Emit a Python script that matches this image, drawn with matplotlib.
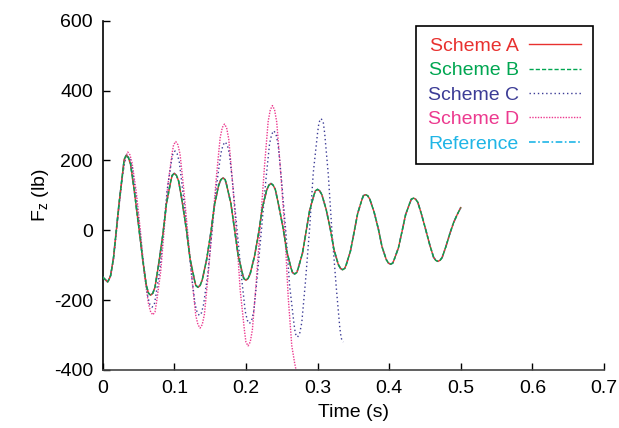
import matplotlib
matplotlib.use('Agg')
import matplotlib.pyplot as plt

# values (time in s, force in lb)
ref_t = [0.000, 0.007, 0.011, 0.015, 0.019, 0.023, 0.027, 0.030,
         0.033, 0.036, 0.039, 0.044, 0.050, 0.056, 0.061, 0.064,
         0.067, 0.070, 0.073, 0.078, 0.084, 0.089, 0.095, 0.097,
         0.100, 0.103, 0.106, 0.111, 0.117, 0.122, 0.128, 0.130,
         0.133, 0.136, 0.139, 0.145, 0.151, 0.156, 0.162, 0.165,
         0.168, 0.171, 0.173, 0.179, 0.184, 0.189, 0.195, 0.197,
         0.200, 0.203, 0.206, 0.212, 0.218, 0.223, 0.229, 0.232,
         0.235, 0.238, 0.241, 0.246, 0.252, 0.257, 0.263, 0.265,
         0.268, 0.271, 0.273, 0.279, 0.284, 0.289, 0.295, 0.297,
         0.300, 0.303, 0.306, 0.312, 0.318, 0.323, 0.329, 0.332,
         0.335, 0.338, 0.340, 0.346, 0.351, 0.356, 0.362, 0.364,
         0.367, 0.370, 0.373, 0.379, 0.385, 0.390, 0.396, 0.399,
         0.402, 0.405, 0.407, 0.413, 0.418, 0.423, 0.429, 0.431,
         0.434, 0.437, 0.440, 0.445, 0.451, 0.457, 0.462, 0.465,
         0.468, 0.471, 0.474, 0.479, 0.485, 0.490, 0.495, 0.500]
ref_f = [-134, -148, -130, -80, 0, 80, 150, 203,
         215, 208, 188, 115, 15, -86, -159, -180,
         -186, -180, -163, -99, -12, 76, 140, 157,
         163, 157, 141, 82, 0, -82, -141, -158,
         -163, -158, -142, -85, -7, 72, 129, 145,
         150, 145, 130, 77, 4, -70, -123, -138,
         -143, -138, -124, -74, -5, 65, 115, 129,
         134, 129, 117, 69, 5, -60, -108, -121,
         -125, -121, -109, -65, -4, 57, 101, 113,
         117, 113, 102, 60, 2, -56, -98, -109,
         -113, -109, -99, -59, -6, 48, 88, 99,
         102, 99, 89, 52, 3, -47, -84, -94,
         -97, -94, -84, -50, -3, 45, 79, 89,
         92, 89, 80, 47, 2, -44, -77, -86,
         -89, -86, -78, -48, -8, 22, 45, 65]

# schemes A and B sit on top of the reference at this scale
a_f = ref_f
b_f = ref_f

c_t = [0.000, 0.007, 0.011, 0.015, 0.019, 0.023, 0.027, 0.031,
       0.035, 0.038, 0.041, 0.046, 0.052, 0.058, 0.063, 0.066,
       0.069, 0.072, 0.074, 0.080, 0.085, 0.090, 0.096, 0.098,
       0.101, 0.104, 0.107, 0.112, 0.118, 0.124, 0.129, 0.132,
       0.135, 0.138, 0.141, 0.147, 0.153, 0.159, 0.165, 0.168,
       0.171, 0.174, 0.177, 0.182, 0.188, 0.194, 0.199, 0.202,
       0.205, 0.208, 0.211, 0.216, 0.222, 0.228, 0.233, 0.236,
       0.239, 0.242, 0.245, 0.250, 0.256, 0.261, 0.267, 0.269,
       0.272, 0.275, 0.278, 0.283, 0.289, 0.294, 0.300, 0.302,
       0.305, 0.308, 0.310, 0.315, 0.320, 0.326, 0.331, 0.333, 0.336]
c_f = [-134, -148, -130, -82, -3, 75, 148, 198,
       210, 203, 181, 103, -5, -113, -191, -213,
       -220, -213, -190, -108, 4, 115, 197, 219,
       227, 219, 195, 109, -9, -126, -212, -236,
       -244, -236, -211, -120, 5, 129, 220, 244,
       253, 244, 218, 123, -7, -137, -232, -258,
       -267, -258, -230, -129, 9, 147, 248, 275,
       285, 275, 245, 137, -11, -158, -266, -296,
       -306, -296, -264, -150, 7, 164, 278, 309,
       320, 309, 277, 160, 0, -160, -277, -309, -320]

d_t = [0.000, 0.007, 0.011, 0.015, 0.019, 0.023, 0.027, 0.031,
       0.035, 0.038, 0.041, 0.047, 0.053, 0.058, 0.064, 0.067,
       0.070, 0.073, 0.075, 0.081, 0.086, 0.091, 0.097, 0.099,
       0.102, 0.105, 0.108, 0.113, 0.119, 0.125, 0.130, 0.133,
       0.136, 0.139, 0.142, 0.147, 0.153, 0.159, 0.164, 0.167,
       0.170, 0.173, 0.176, 0.181, 0.187, 0.192, 0.198, 0.200,
       0.203, 0.206, 0.209, 0.214, 0.220, 0.226, 0.231, 0.234,
       0.237, 0.240, 0.243, 0.248, 0.254, 0.259, 0.264, 0.268, 0.272]
d_f = [-134, -148, -132, -85, -8, 72, 145, 205,
       224, 216, 193, 108, -9, -126, -211, -234,
       -242, -234, -209, -118, 6, 130, 221, 245,
       254, 245, 218, 121, -13, -147, -244, -270,
       -280, -270, -241, -134, 12, 158, 265, 294,
       304, 294, 261, 145, -14, -172, -288, -320,
       -331, -320, -285, -159, 13, 185, 311, 345,
       357, 345, 310, 180, 10, -190, -330, -380, -420]

labels = ['Scheme A', 'Scheme B', 'Scheme C', 'Scheme D', 'Reference']
x_ticks = [0, 0.1, 0.2, 0.3, 0.4, 0.5, 0.6, 0.7]
x_ticklabels = ['0', '0.1', '0.2', '0.3', '0.4', '0.5', '0.6', '0.7']
y_ticks = [-400, -200, 0, 200, 400, 600]

plt.rcParams['font.family'] = ['Liberation Sans', 'DejaVu Sans']
plt.rcParams['axes.unicode_minus'] = False

fig = plt.figure(figsize=(6.19, 4.28), dpi=100)
ax = fig.add_axes([102.7 / 619, 58 / 428, 501.3 / 619, 349.3 / 428])

ax.plot(ref_t, a_f, color='#e8312f', lw=1.0, label=labels[0], zorder=4)
ax.plot(ref_t, b_f, color='#00a651', lw=1.0, ls=(0, (3, 1.5)), label=labels[1], zorder=5)
ax.plot(c_t, c_f, color='#3c3c96', lw=1.0, ls=(0, (1, 2)), label=labels[2], zorder=2)
ax.plot(d_t, d_f, color='#ec3a8f', lw=1.0, ls=(0, (1, 1)), label=labels[3], zorder=1)
ax.plot(ref_t, ref_f, color='#1fb5e6', lw=1.2, ls=(0, (4, 1.5, 1, 1.5)), label=labels[4], zorder=3)

ax.set_xlim(0, 0.7)
ax.set_ylim(-400, 600)
ax.set_xticks(x_ticks)
ax.set_xticklabels(x_ticklabels)
ax.set_yticks(y_ticks)
ax.tick_params(direction='in', length=5, width=1, labelsize=14, pad=7)
ax.spines['top'].set_visible(False)
ax.spines['right'].set_visible(False)
ax.spines['left'].set_linewidth(1.2)
ax.spines['bottom'].set_linewidth(1.2)
ax.spines['bottom'].set_color('#444444')

ax.set_xlabel('Time (s)', fontsize=14, labelpad=5)
ax.set_ylabel(r'F$_\mathregular{z}$ (lb)', fontsize=14, labelpad=2)

leg = ax.legend(loc='upper right', bbox_to_anchor=(593 / 619, 402.3 / 428),
                bbox_transform=fig.transFigure, borderaxespad=0,
                markerfirst=False, labelcolor='linecolor', fontsize=14,
                handlelength=2.7, handletextpad=0.5, labelspacing=0.35,
                fancybox=False, framealpha=1, edgecolor='black', borderpad=0.6)
leg.get_frame().set_linewidth(1.2)

fig.savefig('out.png', dpi=100)
